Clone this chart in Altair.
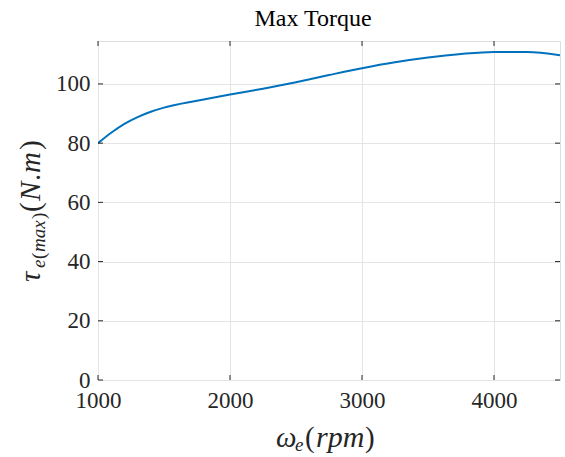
import altair as alt
import pandas as pd

rpm = [1000, 1100, 1200, 1300, 1400, 1500, 1750, 2000, 2250, 2500, 2750, 3000, 3250, 3500, 3750, 4000, 4250, 4500]
torque = [80.0, 83.5, 86.5, 88.8, 90.6, 92.0, 94.3, 96.4, 98.4, 100.6, 103.0, 105.3, 107.3, 108.9, 110.1, 110.8, 110.8, 109.7]
x_ticks = [1000, 2000, 3000, 4000]
y_ticks = [0, 20, 40, 60, 80, 100]
title_text = "Max Torque"

W, H = 462, 339
FONT = "Liberation Serif"
INK = "#262626"

df = pd.DataFrame({"rpm": rpm, "torque": torque})
xt = pd.DataFrame({"v": x_ticks})
yt = pd.DataFrame({"v": y_ticks})
one = pd.DataFrame({"k": [0]})

xs = alt.Scale(domain=[1000, 4500], nice=False, zero=False)
ys = alt.Scale(domain=[0, 114.5], nice=False)

common_axis = dict(grid=True, gridColor="#e4e4e4", tickSize=0, domain=False,
                   labelFont=FONT, labelFontSize=23, labelColor=INK, title="", labelFlush=False)

line = alt.Chart(df).mark_line(color="#0072BD", strokeWidth=2, clip=True, interpolate="monotone").encode(
    x=alt.X("rpm:Q", scale=xs, axis=alt.Axis(values=x_ticks, format="d", labelPadding=9, **common_axis)),
    y=alt.Y("torque:Q", scale=ys, axis=alt.Axis(values=y_ticks, labelPadding=8, **common_axis)),
)

xb = alt.Chart(xt).mark_rule(color=INK, strokeWidth=1).encode(
    x=alt.X("v:Q", scale=xs), y=alt.value(H), y2=alt.value(H - 5))
xtp = alt.Chart(xt).mark_rule(color=INK, strokeWidth=1).encode(
    x=alt.X("v:Q", scale=xs), y=alt.value(0), y2=alt.value(5))
yl = alt.Chart(yt).mark_rule(color=INK, strokeWidth=1).encode(
    y=alt.Y("v:Q", scale=ys), x=alt.value(0), x2=alt.value(5))
yr = alt.Chart(yt).mark_rule(color=INK, strokeWidth=1).encode(
    y=alt.Y("v:Q", scale=ys), x=alt.value(W - 5), x2=alt.value(W))


def glyph(txt, x, y, size, italic=True, angle=0):
    kw = dict(font=FONT, fontSize=size, fontStyle="italic" if italic else "normal",
              align="left", baseline="alphabetic", color=INK)
    if angle:
        kw["angle"] = angle
    return alt.Chart(one).mark_text(**kw).encode(
        x=alt.value(x), y=alt.value(y), text=alt.value(txt))


# x-axis title: omega_e(rpm)
XB, XS = 406, 410
xtitle = [
    glyph("ω", 178, XB, 29),
    glyph("e", 197, XS, 19),
    glyph("(", 207, XB, 29, italic=False),
    glyph("rpm", 218, XB, 30),
    glyph(")", 267, XB, 29, italic=False),
]

# y-axis title: tau_e(max)(N.m), rotated
YB, YS = -58, -53
ytitle = [
    glyph("τ", YB, 241, 29, angle=270),
    glyph("e", YS, 227, 19, angle=270),
    glyph("(", YS, 218, 19, italic=False, angle=270),
    glyph("max", YS, 211, 19, angle=270),
    glyph(")", YS, 178, 19, italic=False, angle=270),
    glyph("(", YB, 171, 29, italic=False, angle=270),
    glyph("N", YB, 160, 29, angle=270),
    glyph(".", YB, 140, 29, italic=False, angle=270),
    glyph("m", YB, 132, 29, angle=270),
    glyph(")", YB, 109, 29, italic=False, angle=270),
]

chart = alt.layer(line, xb, xtp, yl, yr, *xtitle, *ytitle).properties(
    width=W, height=H,
    title=alt.TitleParams(title_text, font=FONT, fontSize=24, fontWeight="normal",
                          color="#000000", offset=10, dx=-16),
    autosize=alt.AutoSizeParams(type="none"),
    padding={"left": 98, "top": 41, "right": 5, "bottom": 77},
).configure_view(stroke=INK, strokeWidth=1).configure(background="white")

chart.save("out.html", embed_options={"renderer": "svg", "actions": False})
